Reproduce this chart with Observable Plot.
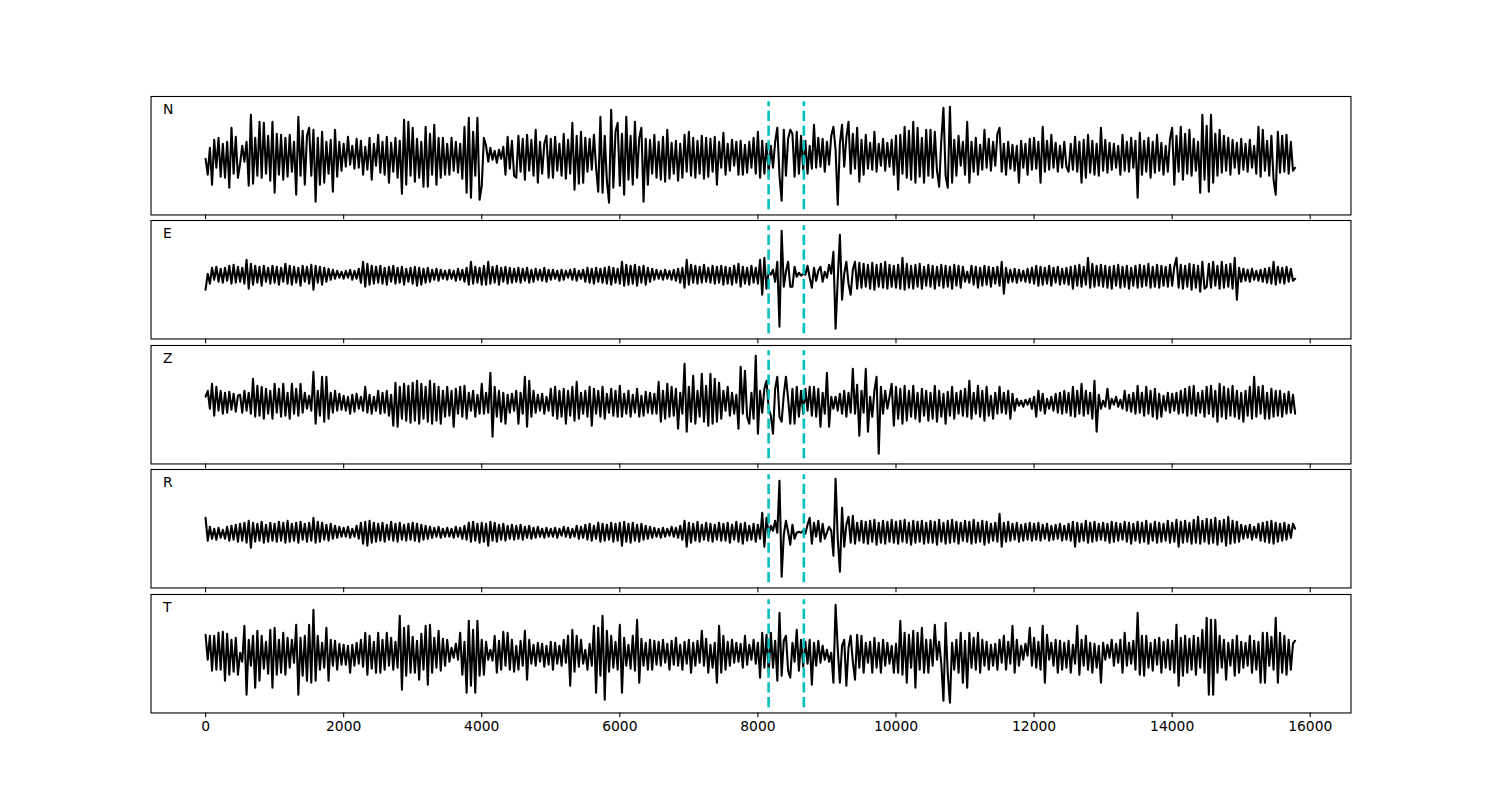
<!DOCTYPE html>
<html><head><meta charset="utf-8">
<script src="https://cdn.jsdelivr.net/npm/d3@7"></script>
<script src="https://cdn.jsdelivr.net/npm/@observablehq/plot@0.6"></script>
<style>
html,body{margin:0;padding:0;background:#fff;overflow:hidden;}
#chart{position:relative;width:1500px;height:800px;}
#chart svg{position:absolute;left:0;}
</style></head><body><div id="chart"></div>
<script>
// ---- data ----
const channels = ["N", "E", "Z", "R", "T"];
const segmentSpan = 500;          // each inner list covers 500 samples of time
const samplesPerSegment = 16;
const pickTimes = [8155, 8665];
const pickHalfHeight = 54;
const xTicks = [0, 2000, 4000, 6000, 8000, 10000, 12000, 14000, 16000];

const traceN = [
[-3,-19,8,-29,16,-12,18,-21,12,-22,14,-32,28,-18,19,-22],
[-8,10,-6,14,-30,41,-28,18,-20,34,-22,33,-18,20,-25,34],
[-37,22,-19,21,-24,18,-21,21,-16,14,-39,39,-20,25,-29,20],
[28,-20,26,-46,18,-29,24,-27,14,-18,16,-36,26,-21,14,-15],
[12,-11,19,-9,10,-13,17,-12,15,-19,9,-14,18,-24,12,-10],
[21,-17,14,-19,19,-27,13,-16,18,-22,15,-38,36,-29,34,-20],
[28,-26,17,-22,14,-31,29,-31,22,-19,31,-29,18,-22,18,-19],
[12,-19,18,-15,14,-17,12,-23,29,-37,38,-42,24,-20,38,-44],
[-30,18,10,-6,8,-4,5,-7,6,-3,9,-19,19,-13,15,-20],
[-22,20,-16,17,-24,21,-15,16,-20,26,-27,14,-18,12,20,-22],
[17,-22,19,-15,12,-20,22,-23,16,-18,33,-34,20,-28,24,-27],
[18,-16,17,-14,21,-12,-36,39,-37,20,-25,-47,46,-32,24,33],
[-30,22,-39,39,-24,20,-29,34,-22,18,28,-46,17,-29,16,-18],
[21,-22,14,-24,19,-26,26,-23,13,-18,15,-25,12,-22,21,-16],
[24,-20,18,-22,15,-18,20,-23,18,-21,17,-16,19,-29,14,-12],
[23,-19,12,-15,16,-10,14,-19,15,-19,11,-17,14,-12,18,-18],
[24,-22,15,-18,12,-16,10,-12,14,28,-20,-45,26,-20,17,26],
[22,-21,24,-18,20,-14,15,-18,10,-13,31,-12,18,-11,17,-16],
[14,-9,20,29,6,-49,12,31,-11,18,34,-18,22,-13,28,-26],
[16,-19,21,-13,13,-14,24,-16,12,-10,17,-15,13,-11,16,-19],
[20,-34,21,-18,29,-22,25,-24,34,-27,28,-21,18,-27,26,-20],
[26,-22,24,-15,-31,15,48,-20,-32,49,-27,16,-20,20,-10,14],
[-19,34,-27,14,-16,18,-19,11,-14,26,-12,17,-15,14,-10,22],
[28,-16,12,-19,14,-13,11,-15,10,-27,15,-12,12,-19,17,-14],
[18,-13,14,-27,29,-16,15,-14,21,-12,13,-16,10,-12,14,-11],
[-16,12,-14,19,-16,14,-27,16,-22,21,-17,15,-19,12,-20,28],
[-15,16,-17,13,-14,12,-12,10,-19,21,-15,14,-16,18,-12,15],
[-42,23,-19,15,-16,18,-22,14,-17,21,-15,13,-19,10,-16,17],
[28,-29,20,-16,29,-24,22,-18,26,-20,17,-15,14,-37,41,-24],
[30,-36,41,-27,22,-20,26,-17,20,-15,18,-19,16,-12,13,-18],
[17,-14,12,-16,16,-12,10,-18,29,-21,26,-15,15,-20,20,-24],
[-39,24,-17,20,-16,21,-18,14,-15,-12]
];

const traceE = [
[-10,6,-4,12,0,13,-2,11,-3,12,-1,14,-4,15,-3,13],
[-2,12,-4,20,-9,16,-5,14,-3,13,-6,14,-2,12,-4,14],
[-3,13,-5,12,-2,16,-4,14,-5,13,-3,12,-6,14,-2,13],
[-4,15,-10,14,-3,13,-5,12,-2,11,0,10,1,9,2,8],
[1,9,2,10,0,9,1,11,-3,18,-7,16,-5,14,-4,13],
[-3,14,-4,12,-5,13,-2,14,-4,12,-3,13,-5,11,-2,12],
[-4,13,-6,12,-5,11,-3,12,-2,10,0,11,-1,10,1,9],
[0,10,1,9,-1,11,0,10,-2,12,-5,18,-4,13,-3,12],
[-5,14,-5,18,-4,13,-3,14,-5,12,-2,13,-4,12,-3,11],
[-2,12,-3,11,-1,12,-3,10,-2,11,0,10,-1,12,-2,10],
[0,10,1,9,-1,10,0,9,2,10,0,11,-1,9,1,10],
[-2,12,-3,11,-4,12,-2,11,-3,12,-4,13,-5,12,-3,11],
[-4,18,-6,15,-5,14,-4,15,-6,13,-3,14,-5,12,-2,11],
[0,10,1,9,0,10,1,9,0,10,-1,11,-3,12,-8,20],
[-5,15,-3,14,-4,13,-3,15,-2,12,-3,14,-4,13,-3,14],
[-5,13,-4,12,-5,14,-3,16,-7,13,-4,12,-5,14,-3,12],
[-4,20,-15,22,-9,8,5,10,-2,18,-47,49,-7,8,18,-7],
[-7,13,3,7,4,6,5,14,2,-8,12,-1,9,13,-2,8],
[2,15,6,28,-49,0,45,-20,6,18,-4,-15,10,18,-9,17],
[-8,16,-7,15,-9,17,-10,15,-7,16,-8,18,-9,15,-7,14],
[-8,15,-9,22,-10,16,-8,14,-9,15,-7,16,-9,13,-6,15],
[-7,14,-9,13,-6,15,-8,14,-7,13,-9,15,-6,14,-8,13],
[-2,8,-3,14,-5,13,-8,12,-6,14,-5,13,-7,12,-4,13],
[-6,18,-14,12,-3,10,-2,11,-3,10,-1,9,-2,11,-3,12],
[-4,14,-6,13,-5,12,-4,14,-6,12,-3,13,-5,11,-4,12],
[-5,13,-9,14,-6,15,-7,13,-5,22,-8,16,-7,14,-6,15],
[-7,14,-8,13,-9,14,-6,15,-8,13,-7,14,-9,12,-6,14],
[-8,15,-7,14,-6,16,-8,13,-7,15,-8,14,-6,13,-7,15],
[-6,13,22,-8,15,-9,14,-7,16,-10,15,-8,14,-12,18,-9],
[-7,16,-8,18,-6,14,-9,18,-8,15,-7,16,-9,22,-20,12],
[-2,11,-1,10,-2,11,0,9,-1,10,-2,11,-3,12,-4,18],
[-5,13,-3,12,-4,13,-2,11,-1,1]
];

const traceZ = [
[8,14,-4,21,-11,18,-6,14,-9,12,-8,13,-5,11,-7,9],
[10,-8,14,-6,12,-9,26,-12,19,-11,18,-14,16,-9,14,-14],
[21,-8,16,-12,21,-11,12,-14,21,-9,16,-11,21,-8,12,-4],
[9,-6,33,-19,14,-11,28,-17,28,-14,12,-8,14,-6,11,-5],
[9,-6,8,-9,10,-7,11,-4,8,-6,18,-8,10,-9,8,-6],
[14,-9,12,-8,14,-11,10,-21,22,-22,18,-14,21,-16,19,-18],
[22,-16,24,-19,21,-14,18,-17,24,-19,21,-16,18,-19,14,-12],
[18,-11,14,-22,16,-9,18,-12,19,-14,12,-6,14,-12,10,-9],
[21,-9,12,-8,32,-32,18,-12,14,-17,12,-19,10,-8,11,-6],
[14,-19,12,-9,28,-22,24,-12,14,-8,10,-6,11,-9,8,-6],
[16,-11,18,-14,14,-12,16,-19,14,-11,18,-16,23,-14,12,-9],
[14,-12,18,-21,16,-9,14,-12,18,-14,11,-8,16,-11,14,-12],
[19,-12,11,-9,14,-12,10,-8,16,-12,9,-11,13,-8,12,-9],
[11,-9,23,-17,14,-14,21,-12,18,-11,16,-24,12,-9,41,-27],
[18,-17,29,-19,14,-12,31,-17,19,-21,31,-19,26,-17,22,-14],
[14,-6,18,-11,12,-9,10,-24,38,-9,34,-12,-19,12,-14,49],
[-29,14,-8,16,24,-4,-11,-29,16,28,-12,-17,10,28,6,-19],
[16,-19,18,-12,14,-9,16,-6,18,-11,18,-12,16,-22,12,-9],
[32,-22,8,-4,8,-6,11,-9,14,-12,12,-8,36,-9,20,-31],
[14,-8,36,-27,8,-12,14,28,-49,18,-9,14,-4,8,21,-21],
[18,-14,16,-19,19,-16,14,-12,19,-14,12,-17,16,-11,14,-16],
[12,-14,19,-17,14,-12,11,-19,13,-11,18,-14,12,-9,14,-11],
[16,-12,24,-14,12,-9,19,-12,14,-16,18,-11,9,-14,12,-9],
[18,-8,12,-9,14,-14,11,-6,6,-1,4,-2,5,0,6,-4],
[8,-12,14,-6,11,-9,6,-4,8,-6,11,-8,12,-9,14,-8],
[12,-11,18,-12,14,-9,21,-11,14,-9,12,-14,24,-27,10,-4],
[4,-2,16,-4,6,0,8,-2,5,-4,14,-6,10,-7,12,-9],
[19,-8,12,-11,18,-9,14,-12,16,-14,11,-12,9,-6,12,-8],
[11,-6,12,-9,14,-8,16,-11,18,-9,19,-11,12,-8,14,-12],
[18,-9,19,-12,14,-17,21,-12,18,-14,16,-11,19,-12,14,-14],
[12,-17,14,-11,18,-14,28,-12,18,-9,19,-14,12,-14,16,-12],
[14,-11,14,-12,11,-9,13,-8,10,-9]
];

const traceR = [
[11,-12,2,-10,0,-11,1,-9,-1,-10,2,-12,3,-11,4,-13],
[5,-12,6,-14,8,-19,6,-13,5,-12,7,-14,4,-13,6,-12],
[5,-13,7,-12,6,-14,8,-13,5,-12,6,-14,7,-11,5,-13],
[6,-12,11,-14,7,-13,6,-11,4,-12,5,-10,3,-9,2,-8],
[1,-8,2,-9,0,-8,3,-10,6,-15,7,-17,8,-14,6,-13],
[5,-12,6,-13,4,-11,7,-12,5,-13,6,-11,4,-12,5,-11],
[6,-12,5,-13,4,-11,3,-10,2,-9,1,-8,2,-9,0,-8],
[1,-8,0,-9,2,-8,1,-10,3,-11,6,-13,7,-12,5,-14],
[6,-13,5,-17,7,-12,6,-13,4,-11,5,-12,3,-10,4,-11],
[3,-10,4,-11,2,-9,3,-10,1,-9,2,-8,0,-9,1,-8],
[0,-8,1,-9,0,-7,2,-8,1,-9,0,-8,3,-10,2,-9],
[4,-11,5,-12,3,-10,6,-13,5,-12,4,-11,6,-13,5,-12],
[6,-17,7,-13,5,-14,6,-12,4,-13,5,-11,3,-10,2,-9],
[1,-8,0,-9,1,-8,0,-7,2,-8,1,-9,3,-11,8,-18],
[6,-14,5,-12,7,-13,4,-11,6,-12,5,-13,4,-11,6,-12],
[5,-12,6,-14,4,-11,7,-13,5,-15,6,-12,3,-11,5,-13],
[4,-10,16,-18,11,-6,3,-2,8,-4,48,-48,-6,8,-3,-16],
[4,-10,-4,-3,-4,-2,-5,4,11,-15,6,-8,8,-13,5,-10],
[-4,2,-2,-27,50,-10,-43,21,-18,4,12,-14,13,-15,6,-12],
[8,-14,7,-15,8,-13,9,-16,6,-14,8,-15,7,-13,9,-14],
[7,-15,8,-13,9,-14,6,-16,8,-14,7,-13,8,-15,6,-14],
[8,-14,7,-16,9,-13,6,-15,8,-14,9,-13,7,-15,6,-12],
[8,-13,7,-15,9,-14,6,-13,8,-16,7,-14,5,-12,6,-13],
[15,-18,6,-13,7,-12,5,-11,6,-13,4,-12,5,-11,6,-12],
[5,-11,6,-12,4,-10,5,-12,3,-11,4,-10,5,-12,3,-11],
[5,-12,7,-18,6,-13,5,-12,8,-14,6,-13,7,-12,5,-11],
[6,-12,5,-14,7,-13,6,-12,5,-11,7,-13,6,-15,5,-12],
[7,-14,6,-13,8,-15,5,-12,7,-14,6,-13,5,-12,8,-14],
[6,-13,9,-18,7,-14,8,-13,6,-15,9,-14,12,-15,8,-13],
[10,-15,9,-14,11,-16,8,-13,9,-17,12,-15,8,-14,7,-13],
[4,-10,3,-9,4,-11,2,-9,5,-12,6,-13,7,-14,8,-15],
[6,-13,5,-12,6,-11,4,-9,5,0]
];

const traceT = [
[19,-6,18,-17,18,-16,21,-16,22,-27,20,-21,14,-18,16,-21],
[1,-8,28,-41,14,-12,18,-34,23,-27,18,-15,12,-20,24,-34],
[26,-21,14,-19,21,-21,16,-14,14,-9,29,-41,16,-22,18,-27],
[29,-29,44,-27,18,-16,11,-14,26,-27,14,-12,13,-16,10,-11],
[9,-11,8,-19,9,-12,11,-10,14,-13,21,-21,18,-15,12,-19],
[21,-19,14,-16,21,-12,16,-16,12,-14,38,-36,26,-22,28,-19],
[17,-19,13,-26,20,-16,28,-31,29,-19,16,-14,23,-17,15,-12],
[14,-8,6,-4,10,-6,21,-21,12,-39,33,-32,24,-39,33,-22],
[14,-21,12,-6,4,-7,18,-19,13,-16,22,-12,21,-16,14,-18],
[8,-16,13,-12,23,-26,14,-10,9,-12,11,-8,10,-13,8,-11],
[12,-16,11,-10,8,-12,14,-9,18,-32,24,-18,18,-13,14,-10],
[4,-16,10,-12,28,-39,26,-22,38,-46,23,-18,18,-14,12,-16],
[29,-39,16,-12,9,-15,18,-17,34,-29,15,-12,11,-16,14,-16],
[13,-11,12,-12,14,-9,10,-16,13,-11,16,-12,9,-16,12,-10],
[14,-19,11,-12,13,-9,23,-12,15,-19,9,-14,11,-29,28,-19],
[18,-16,12,-12,14,-9,11,-8,10,-14,18,-11,9,-6,14,-10],
[11,-24,21,-14,19,-19,21,-14,13,-27,41,-22,13,18,-17,-24],
[11,-8,24,-17,14,-13,12,-10,14,-31,11,-12,13,-9,8,-6],
[4,-8,1,-29,49,5,-29,8,14,-32,6,18,-8,-26,19,-14],
[18,-19,11,-9,12,-19,16,-14,11,-19,14,-12,11,-10,8,-19],
[10,-19,33,-21,21,-29,19,-14,23,-34,21,-16,26,-19,14,-19],
[14,-12,29,-6,12,-10,-47,31,-20,-49,11,-16,14,-19,21,-29],
[13,-34,21,-14,16,-16,21,-19,14,-12,12,-16,9,-12,10,-16],
[14,-9,18,-16,12,-10,28,-19,14,-12,8,-6,10,-2,26,-12],
[16,-14,12,-16,28,-29,19,-6,11,-12,14,-19,13,-16,11,-14],
[13,-19,9,-10,28,-21,14,-12,18,-16,11,-19,10,-14,8,-29],
[11,-6,9,-4,14,-12,10,-9,14,-19,21,-12,11,-10,13,-16],
[41,-21,18,-22,18,-14,11,-17,14,-11,16,-19,12,-14,14,-16],
[13,-19,29,-32,16,-22,18,-19,15,-16,18,-21,16,-14,24,-19],
[36,-41,34,-41,34,-19,18,-14,14,-26,11,-12,14,-22,18,-19],
[12,-14,11,-12,18,-19,13,-16,12,-29,21,-29,21,-12,17,-16],
[36,-29,21,-19,18,-21,14,-16,10,13]
];

const traces = {N: traceN, E: traceE, Z: traceZ, R: traceR, T: traceT};

// ---- build rows ----
function toRows(segs) {
  const rows = [];
  segs.forEach((seg, s) => {
    const dt = segmentSpan / Math.max(samplesPerSegment, seg.length);
    seg.forEach((v, j) => rows.push({t: s * segmentSpan + j * dt, v}));
  });
  return rows;
}

// ---- layout (matches a 15x8in matplotlib figure) ----
const figTop = 96, panelH = 118.46, panelStep = 124.385;
const fontFamily = "DejaVu Sans, sans-serif";
const chart = document.getElementById("chart");

channels.forEach((ch, i) => {
  const last = i === channels.length - 1;
  const mt = 4, mb = last ? 40 : 10;
  const half = panelH / 2;
  const svg = Plot.plot({
    width: 1500,
    height: panelH + mt + mb,
    marginLeft: 150.5,
    marginRight: 149.5,
    marginTop: mt,
    marginBottom: mb,
    style: {fontFamily, fontSize: "13.89px", color: "black", background: "transparent"},
    x: {domain: [-790, 16590]},
    y: {domain: [-half, half], axis: null},
    marks: [
      Plot.frame({stroke: "black", strokeWidth: 1.1}),
      Plot.line(toRows(traces[ch]), {x: "t", y: "v", stroke: "black", strokeWidth: 2.08}),
      Plot.ruleX(pickTimes, {y1: -pickHalfHeight, y2: pickHalfHeight, stroke: "#00bfbf",
        strokeWidth: 2.6, strokeDasharray: "10.3,4.4"}),
      Plot.text([ch], {text: d => d, frameAnchor: "top-left", dx: 12, dy: 17.8,
        lineAnchor: "bottom", textAnchor: "start", fill: "black", fontSize: 13.89}),
      Plot.axisX({ticks: xTicks, tickSize: 4.86, tickPadding: 3.5, strokeWidth: 1.1,
        label: null, tickFormat: last ? d3.format("d") : () => "", fill: "black"})
    ]
  });
  svg.style.top = (figTop + i * panelStep - mt) + "px";
  chart.appendChild(svg);
});
</script></body></html>
